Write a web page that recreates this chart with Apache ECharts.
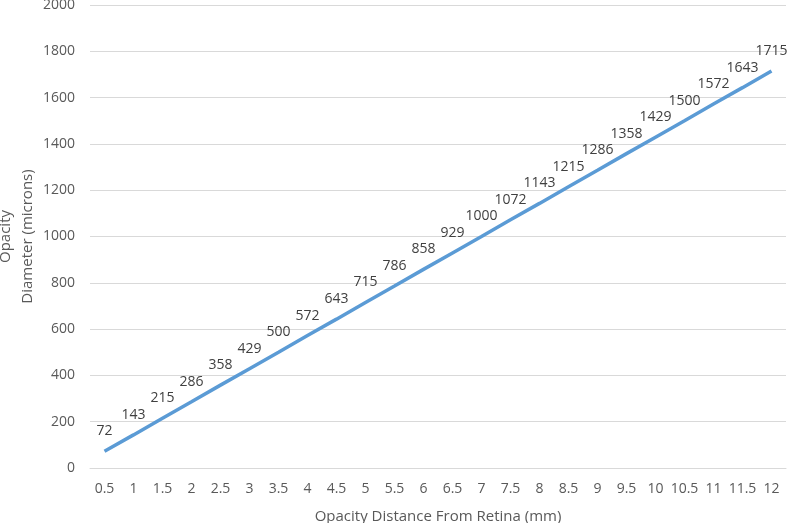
<!DOCTYPE html>
<html>
<head>
<meta charset="utf-8">
<script src="https://cdn.jsdelivr.net/npm/echarts@6/dist/echarts.min.js"></script>
<style>
  html, body { margin: 0; padding: 0; background: #fff; }
  #chart { width: 787px; height: 523px; }
</style>
</head>
<body>
<div id="chart"></div>
<script>
// distance from retina (mm) vs opacity diameter (microns)
var distances = ['0.5', '1', '1.5', '2', '2.5', '3', '3.5', '4', '4.5', '5', '5.5', '6',
                 '6.5', '7', '7.5', '8', '8.5', '9', '9.5', '10', '10.5', '11', '11.5', '12'];
var diameters = [72, 143, 215, 286, 358, 429, 500, 572, 643, 715, 786, 858,
                 929, 1000, 1072, 1143, 1215, 1286, 1358, 1429, 1500, 1572, 1643, 1715];

var chart = echarts.init(document.getElementById('chart'));
var textColor = '#595959';
var font = 'Open Sans';

chart.setOption({
    animation: false,
    grid: { left: 90, right: 1, top: 5, bottom: 55, outerBoundsMode: 'none' },
    xAxis: {
        type: 'category',
        data: distances,
        boundaryGap: true,
        name: 'Opacity Distance From Retina (mm)',
        nameLocation: 'middle',
        nameGap: 41,
        nameTextStyle: { color: textColor, fontSize: 15, fontFamily: font },
        axisLine: { lineStyle: { color: '#d9d9d9', width: 1 } },
        axisTick: { show: false },
        axisLabel: { color: textColor, fontSize: 14, fontFamily: font, margin: 14, interval: 0 }
    },
    yAxis: {
        type: 'value',
        min: 0,
        max: 2000,
        interval: 200,
        name: 'Opacity\nDiameter (microns)',
        nameLocation: 'middle',
        nameGap: 51,
        nameMoveOverlap: false,
        nameTextStyle: { color: textColor, fontSize: 15, fontFamily: font, lineHeight: 22 },
        axisLine: { show: false },
        axisTick: { show: false },
        axisLabel: {
            color: textColor, fontSize: 14, fontFamily: font, margin: 15,
            formatter: function (v) { return String(v); }
        },
        splitLine: { lineStyle: { color: '#d9d9d9', width: 1 } }
    },
    series: [{
        type: 'line',
        data: diameters,
        symbol: 'circle',
        symbolSize: 0.1,
        showAllSymbol: true,
        lineStyle: { color: '#5b9bd5', width: 3.5 },
        itemStyle: { color: '#5b9bd5' },
        label: {
            show: true,
            position: 'top',
            distance: 13,
            color: '#404040',
            fontSize: 14,
            fontFamily: font
        }
    }]
});

window.addEventListener('resize', function () {
    chart.resize();
});
</script>
</body>
</html>
